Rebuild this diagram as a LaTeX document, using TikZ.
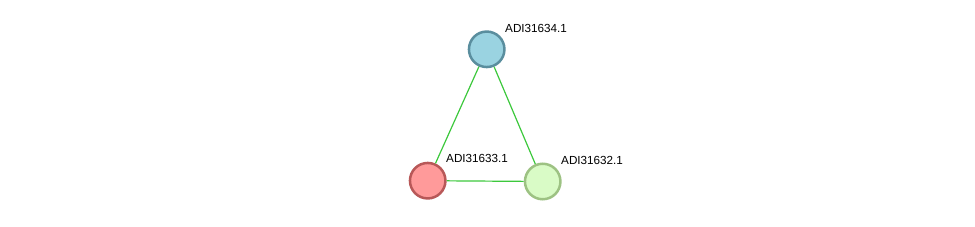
\documentclass[tikz,border=0pt]{standalone}
\usepackage{fontspec}
\setmainfont{Liberation Sans}
\definecolor{edgegreen}{HTML}{3CC83C}
\definecolor{bluefill}{HTML}{9AD3E1}
\definecolor{blueline}{HTML}{5A8E9E}
\definecolor{redfill}{HTML}{FF9A9A}
\definecolor{redline}{HTML}{B85858}
\definecolor{greenfill}{HTML}{D9FBC6}
\definecolor{greenline}{HTML}{9DC283}
\tikzset{
  prot/.style={circle, minimum size=35.5pt, inner sep=0pt, line width=2.5pt},
  lbl/.style={anchor=west, inner sep=0pt, font=\fontsize{11.7}{13}\selectfont},
  edge/.style={draw=edgegreen, line width=1.2pt}
}
\begin{document}
\begin{tikzpicture}[x=1pt,y=-1pt]
\useasboundingbox (0,0) rectangle (975,227);
\node[prot, fill=bluefill, draw=blueline] (a) at (486.7,49.3) {};
\node[prot, fill=redfill, draw=redline] (b) at (427.7,180.7) {};
\node[prot, fill=greenfill, draw=greenline] (c) at (542.7,181.5) {};
\node[lbl] (la) at (505,28) {ADI31634.1};
\node[lbl] (lb) at (446,158.5) {ADI31633.1};
\node[lbl] (lc) at (561,160) {ADI31632.1};
\path[edge] (a) -- (b);
\path[edge] (a) -- (c);
\path[edge] (b) -- (c);
\end{tikzpicture}
\end{document}
